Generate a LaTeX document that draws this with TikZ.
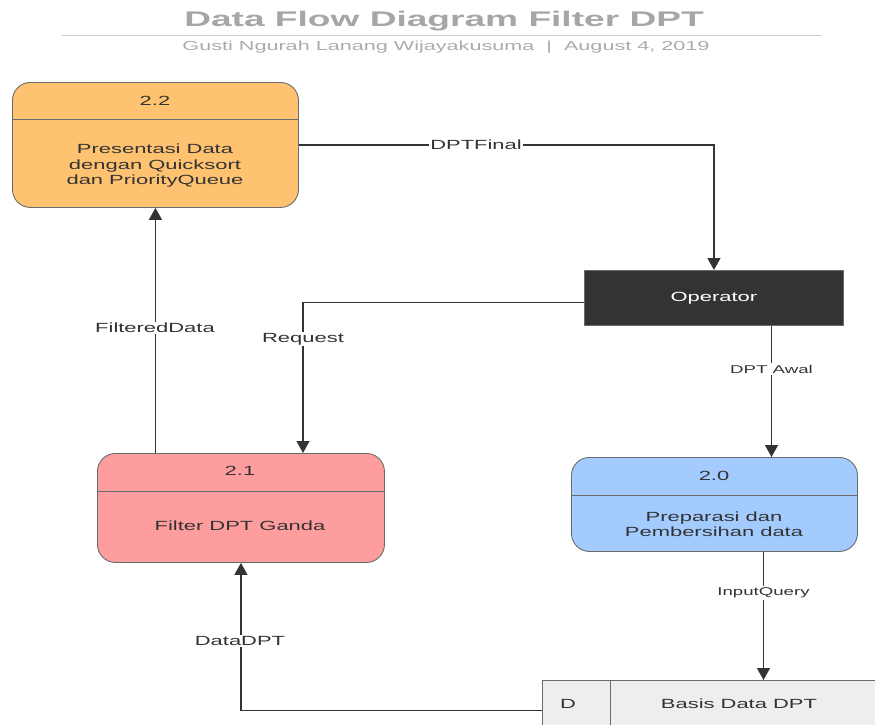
\documentclass[tikz,border=0pt]{standalone}
\usepackage{fontspec}
\setmainfont{Liberation Sans}
\newfontfamily\dfdfont[FakeStretch=1.65]{Liberation Sans}
\newfontfamily\dfdtitlefont[FakeStretch=1.75]{Liberation Sans}
\usetikzlibrary{arrows.meta,calc}

\definecolor{orangefill}{HTML}{FEC271}
\definecolor{pinkfill}{HTML}{FE9D9D}
\definecolor{bluefill}{HTML}{A3CBFE}
\definecolor{storefill}{HTML}{EDEFEE}
\definecolor{operfill}{HTML}{333333}
\definecolor{boxline}{HTML}{6B6B6B}
\definecolor{flowline}{HTML}{333333}
\definecolor{txtgrey}{HTML}{333333}
\definecolor{titlegrey}{HTML}{A6A6A6}
\definecolor{subgrey}{HTML}{ABABAB}
\definecolor{rulegrey}{HTML}{CCCCCC}

\tikzset{
  proc/.style={draw=boxline, line width=0.9pt, rounded corners=18pt,
    inner sep=0pt, anchor=north west},
  txt/.style={font=\dfdfont\fontsize{13.3}{15.5}\selectfont, text=txtgrey, align=center},
  smalltxt/.style={font=\dfdfont\fontsize{11.3}{13}\selectfont, text=txtgrey, align=center},
  lbl/.style={txt, fill=white, inner sep=1.5pt},
  smalllbl/.style={smalltxt, fill=white, inner sep=1.5pt},
  flow/.style={draw=flowline, line width=1.4pt,
    -{Triangle[width=13pt,length=12pt]}},
  divider/.style={draw=boxline, line width=0.9pt}
}

\begin{document}
\begin{tikzpicture}[x=1pt,y=-1pt]
\useasboundingbox (0,0) rectangle (875,725);
\clip (0,0) rectangle (875,725);

% heading
\node[anchor=base, text=titlegrey,
      font=\dfdtitlefont\bfseries\fontsize{21.2}{24}\selectfont] (title) at (444,27)
  {Data Flow Diagram Filter DPT};
\draw[draw=rulegrey, line width=1.5pt] (62,35.5) coordinate (ruleL) -- (821,35.5) coordinate (ruleR);
\node[anchor=base, text=subgrey,
      font=\dfdfont\fontsize{13.1}{15}\selectfont] (subtitle) at (446,51)
  {Gusti Ngurah Lanang Wijayakusuma \ \textbar\ \ August 4, 2019};

% process 2.2
\node[proc, fill=orangefill, minimum width=286pt, minimum height=125pt] (p22) at (12,82) {};
\draw[divider] (p22.west |- 0,119) -- (p22.east |- 0,119);
\node[txt] (p22num) at (155,101) {2.2};
\node[txt] (p22txt) at (155,166) {Presentasi Data\\dengan Quicksort\\dan PriorityQueue};

% process 2.1
\node[proc, fill=pinkfill, minimum width=287pt, minimum height=109pt] (p21) at (97,453) {};
\draw[divider] (p21.west |- 0,491) -- (p21.east |- 0,491);
\node[txt] (p21num) at (240,471) {2.1};
\node[txt] (p21txt) at (240,526) {Filter DPT Ganda};

% process 2.0
\node[proc, fill=bluefill, minimum width=286pt, minimum height=94pt] (p20) at (571,457) {};
\draw[divider] (p20.west |- 0,495) -- (p20.east |- 0,495);
\node[txt] (p20num) at (714,476) {2.0};
\node[txt] (p20txt) at (714,524) {Preparasi dan\\Pembersihan data};

% external entity
\node[draw=boxline, line width=0.9pt, fill=operfill, anchor=north west,
      minimum width=259pt, minimum height=55pt, inner sep=0pt] (op) at (584,270) {};
\node[txt, text=white] (optxt) at (op.center) {Operator};

% data store
\node[draw=boxline, line width=0.9pt, fill=storefill, anchor=north west,
      minimum width=340pt, minimum height=60pt, inner sep=0pt] (store) at (542,680) {};
\draw[divider] (610,680) coordinate (storeDivTop) -- (610,740) coordinate (storeDivBot);
\node[txt] (storeid) at (568,704) {D};
\node[txt] (storename) at (739,704) {Basis Data DPT};

% lanes for the vertical connectors
\coordinate (reqx) at (303,0);
\coordinate (awalx) at (771.5,0);
\coordinate (inqx) at (763.5,0);

% data flows
\draw[flow] (p22.east) -| (op.north);
\node[lbl] (lblfinal) at (476,145) {DPTFinal};

\draw[flow] ($(op.west)+(0,4.5)$) -| (p21.north -| reqx);
\node[lbl] (lblreq) at (303,339) {Request};

\draw[flow] (p21.north -| p22.south) -- (p22.south);
\node[lbl] (lblfilt) at (155,328) {FilteredData};

\draw[flow] (op.south -| awalx) -- (p20.north -| awalx);
\node[smalllbl] (lblawal) at (771.5,369) {DPT Awal};

\draw[flow] (p20.south -| inqx) -- (store.north -| inqx);
\node[smalllbl] (lblinq) at (763.5,593) {InputQuery};

\draw[flow] (store.west) -| (p21.south);
\node[lbl] (lbldata) at (240,641) {DataDPT};
\end{tikzpicture}
\end{document}
